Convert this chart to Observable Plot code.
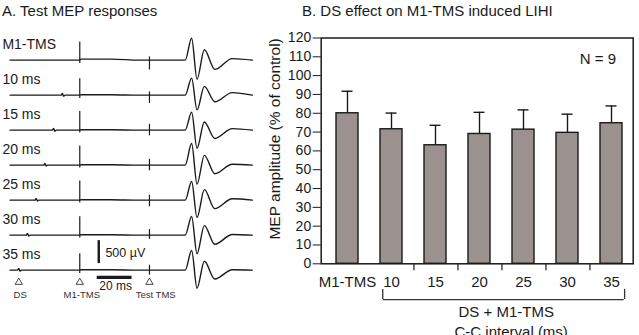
<!DOCTYPE html>
<html>
<head>
<meta charset="utf-8">
<script src="https://cdn.jsdelivr.net/npm/d3@7"></script>
<script src="https://cdn.jsdelivr.net/npm/@observablehq/plot@0.6"></script>
<style>
  html, body { margin: 0; padding: 0; background: #fff; }
  #fig { position: relative; width: 639px; height: 335px; overflow: hidden;
         font-family: "Liberation Sans", Arial, sans-serif; color: #1a1a1a; }
  .title { position: absolute; font-size: 15px; line-height: 1; white-space: nowrap; }
  #panelA, #panelB { position: absolute; top: 0; }
  #panelA { left: 0; }
  #panelB { left: 262px; }
</style>
</head>
<body>
<div id="fig">
  <div class="title" style="left:2px; top:3px">A. Test MEP responses</div>
  <div class="title" style="left:302px; top:3px">B. DS effect on M1-TMS induced LIHI</div>
  <div id="panelA"></div>
  <div id="panelB"></div>
</div>
<script>
// ---------- Panel A: single-trial test MEP recordings ----------
const rowLabels   = ["M1-TMS", "10 ms", "15 ms", "20 ms", "25 ms", "30 ms", "35 ms"];
const dsInterval  = [null, 10, 15, 20, 25, 30, 35];      // DS given this many ms before M1-TMS
const stimNames   = ["DS", "M1-TMS", "Test TMS"];
const stimTimes   = [-35, 0, 40];                          // ms relative to M1-TMS

// stimulus artefacts, µV above / below baseline
const m1ArtUp     = [395, 360, 410, 420, 420, 400, 360];
const m1ArtDown   = [-73, -73, -60, -60, -60, -60, -70];
const testArtUp   = [71, 71, 129, 129, 108, 122, 108];
const testArtDown = [-215, -180, -122, -122, -144, -92, -108];
const dsBlip      = [0, 40, 40, 35, 35, 35, 40];
const postM1Drift = [22, 10, 8, 8, 10, 8, 8];

// MEP landmarks: onset, P1, N1, P2, N2, rebound, end (ms after M1-TMS)
const mepTimes   = [60.5, 64.2, 67.3, 71.5, 77.5, 87.5, 99];
const mepPeak1   = [479, 372, 393, 473, 408, 408, 430];
const mepTrough1 = [-417, -322, -396, -415, -378, -408, -394];
const mepPeak2   = [228, 193, 178, 215, 230, 209, 194];
const mepTrough2 = [-202, -144, -181, -187, -185, -200, -194];
const mepRebound = [34, 56, 34, 21, 30, 15, 10];

const scaleBarUv = 500;
const scaleBarMs = 20;

const traces = rowLabels.flatMap((row, i) => {
  const pts = [[-40, 0]];
  if (dsInterval[i] != null) {
    const t = -dsInterval[i];
    pts.push([t - 0.7, 0], [t, dsBlip[i]], [t + 0.7, -dsBlip[i] / 2], [t + 1.5, 0]);
  }
  pts.push([-0.3, 0], [0.8, postM1Drift[i]], [18, postM1Drift[i]], [34, 0]);
  const amps = [0, mepPeak1[i], mepTrough1[i], mepPeak2[i], mepTrough2[i], mepRebound[i], 0];
  mepTimes.forEach((t, k) => pts.push([t, amps[k]]));
  return pts.map(([t, v]) => ({row, t, v}));
});

const artefacts = rowLabels.flatMap((row, i) => [
  {row, t: 0,  lo: m1ArtDown[i],   hi: m1ArtUp[i]},
  {row, t: 40, lo: testArtDown[i], hi: testArtUp[i]}
]);

const lastRow = rowLabels[rowLabels.length - 1];
const stim = stimNames.map((name, i) => ({row: lastRow, name, t: stimTimes[i]}));
const stimLabelDx = [1.4, 2, 6.2];
const ink = "#1a1a1a";

const panelA = Plot.plot({
  width: 262, height: 335,
  marginTop: 38.3, marginBottom: 47.7, marginLeft: 0, marginRight: 0,
  style: {fontFamily: "'Liberation Sans', Arial, sans-serif", color: ink, background: "transparent", overflow: "visible"},
  x: {domain: [-45.5, 100], range: [0, 253.5], axis: null},
  y: {domain: [-335, 430], axis: null},
  fy: {domain: rowLabels, padding: 0, axis: null},
  marks: [
    Plot.line(traces, {x: "t", y: "v", fy: "row", z: "row", curve: "monotone-x", stroke: ink, strokeWidth: 1.4}),
    Plot.ruleX(artefacts, {x: "t", y1: "lo", y2: "hi", fy: "row", stroke: ink, strokeWidth: 1.2}),
    Plot.text(rowLabels, {fy: d => d, text: d => d, frameAnchor: "top-left", lineAnchor: "middle",
                          dx: 1.9, dy: 4.5, fontSize: 14, fill: ink}),
    // calibration bars
    Plot.ruleX([{row: lastRow}], {fy: "row", x: 10.9, y1: 145, y2: 145 + scaleBarUv, stroke: ink, strokeWidth: 2.4}),
    Plot.ruleY([{row: lastRow}], {fy: "row", y: -157, x1: 10, x2: 10 + scaleBarMs, stroke: ink, strokeWidth: 3.4}),
    Plot.text([{row: lastRow, s: `${scaleBarUv} µV`}], {fy: "row", x: 14.7, y: 385, text: "s", textAnchor: "start", fontSize: 12.5, fill: ink}),
    Plot.text([{row: lastRow, s: `${scaleBarMs} ms`}], {fy: "row", x: 10 + scaleBarMs / 2 + 0.6, y: -350, text: "s", fontSize: 12, fill: ink}),
    // stimulus markers
    Plot.dot(stim, {fy: "row", x: "t", y: -264, symbol: "triangle", r: 2.7, fill: "white", stroke: "#333", strokeWidth: 0.9}),
    ...stim.map((s, i) => Plot.text([s], {fy: "row", x: "t", y: -537, text: "name", dx: stimLabelDx[i], fontSize: 9.5, fill: "#333"}))
  ]
});
document.getElementById("panelA").append(panelA);

// ---------- Panel B: MEP amplitude, % of control ----------
const conditions = ["M1-TMS", "10", "15", "20", "25", "30", "35"];
const meanAmp    = [80, 71.5, 63, 69, 71.3, 69.6, 74.7];
const semAmp     = [11.7, 8.6, 10.6, 11.5, 10.5, 9.9, 9.2];
const yTicks     = [0, 10, 20, 30, 40, 50, 60, 70, 80, 90, 100, 110, 120];
const intervalTicks = ["10", "15", "20", "25", "30"];   // separators drawn after these bands
const nSubjects  = 9;

const bars = conditions.map((c, i) => ({c, m: meanAmp[i], e: semAmp[i]}));
const barFill = "#9b9290";

const panelB = Plot.plot({
  width: 377, height: 335,
  marginTop: 37.5, marginBottom: 71.7, marginLeft: 58.7, marginRight: 6.3,
  style: {fontFamily: "'Liberation Sans', Arial, sans-serif", color: ink, background: "transparent", overflow: "visible"},
  x: {type: "band", domain: conditions, range: [59.74, 374.2], paddingInner: 0.49, paddingOuter: 0.245},
  y: {domain: [0, 120]},
  marks: [
    Plot.barY(bars, {x: "c", y: "m", fill: barFill, stroke: ink, strokeWidth: 1.4}),
    Plot.ruleX(bars, {x: "c", y1: "m", y2: d => d.m + d.e, stroke: ink, strokeWidth: 1.4}),
    Plot.tickY(bars, {x: "c", y: d => d.m + d.e, insetLeft: 5.5, insetRight: 5.5, stroke: ink, strokeWidth: 1.4}),
    Plot.frame({stroke: ink, strokeWidth: 1.5}),
    Plot.axisY({ticks: yTicks, tickSize: 8, tickPadding: 2, fontSize: 14, label: null}),
    Plot.axisX({tickSize: 0, tickPadding: 13, fontSize: 15, label: null}),
    Plot.ruleX(intervalTicks, {x: d => d, dx: 22.46, y1: 0, y2: -3.7, stroke: ink, strokeWidth: 1.2}),
    // bracket grouping the DS + M1-TMS conditions
    Plot.ruleY([{from: "10", to: "35"}], {x1: "from", x2: "to", y: -19, insetLeft: 2.7, insetRight: -1.7, stroke: "#333", strokeWidth: 1.3}),
    Plot.ruleX([{c: "10"}], {x: "c", y1: -19, y2: -13.6, dx: -8.75, stroke: "#333", strokeWidth: 1.3}),
    Plot.ruleX([{c: "35"}], {x: "c", y1: -19, y2: -13.6, dx: 13.1, stroke: "#333", strokeWidth: 1.3}),
    Plot.text(["DS + M1-TMS"], {text: d => d, frameAnchor: "bottom", lineAnchor: "middle", dx: 29, dy: 48.4, fontSize: 15, fill: ink}),
    Plot.text(["C-C interval (ms)"], {text: d => d, frameAnchor: "bottom", lineAnchor: "middle", dx: 34, dy: 68, fontSize: 15, fill: ink}),
    Plot.text([`N = ${nSubjects}`], {text: d => d, frameAnchor: "top-right", textAnchor: "middle", lineAnchor: "middle", dx: -35.2, dy: 21.3, fontSize: 15, fill: ink}),
    Plot.text(["MEP amplitude (% of control)"], {text: d => d, frameAnchor: "left", textAnchor: "middle", lineAnchor: "middle", rotate: -90, dx: -45.7, dy: -12, fontSize: 15.5, fill: ink})
  ]
});
document.getElementById("panelB").append(panelB);
</script>
</body>
</html>
